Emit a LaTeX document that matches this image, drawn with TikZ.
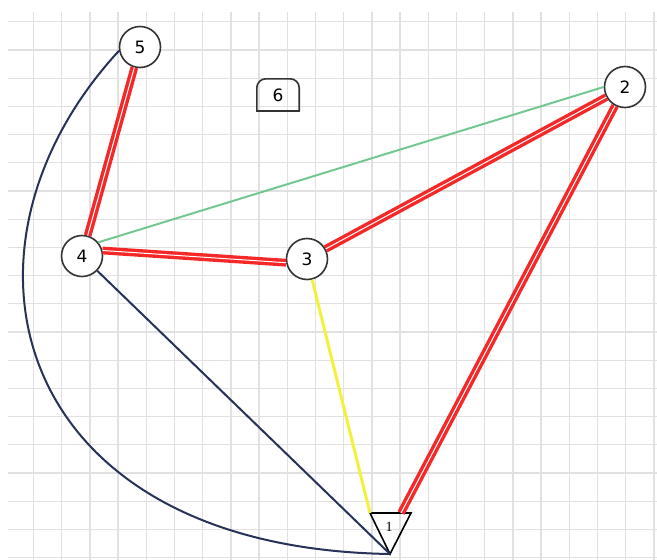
\documentclass[tikz,border=0pt]{standalone}
\usepackage{fontspec}
\usepackage{xcolor}
\newfontfamily\lblfont{DejaVu Sans}
\newfontfamily\serfont{Liberation Serif}
\definecolor{gridgray}{RGB}{225,225,225}
\definecolor{linkred}{RGB}{245,40,40}
\definecolor{linknavy}{RGB}{38,50,88}
\definecolor{linkgreen}{RGB}{115,200,145}
\definecolor{linkyellow}{RGB}{242,242,60}

\begin{document}
\begin{tikzpicture}[
    x=1pt, y=-1pt,
    vtx/.style={circle, draw=black!80, line width=1.6pt, fill=white, minimum size=41pt, inner sep=0pt, font=\lblfont\fontsize{17}{19}\selectfont},
    tagbox/.style={minimum width=42pt, minimum height=32pt, inner sep=0pt, font=\lblfont\fontsize{17}{19}\selectfont},
    gridline/.style={draw=gridgray, line width=1.3pt},
    redpipe/.style={draw=linkred, double=white, double distance=1pt, line width=3.4pt},
    navyline/.style={draw=linknavy, line width=2pt},
    greenline/.style={draw=linkgreen, line width=2pt},
    yellowline/.style={draw=linkyellow, line width=3pt}
]
\useasboundingbox (0,0) rectangle (657,560);

% grid
\begin{scope}
\clip (8,12) rectangle (657,560);
\foreach \i in {0,...,23}
    \draw[gridline] ({5.3+28.2*\i},0) -- ++(0,560);
\foreach \j in {0,...,19}
    \draw[gridline] (0,{21.8+28.2*\j}) -- ++(657,0);
\end{scope}

\node[vtx] (n5) at (140,47) {5};
\node[vtx] (n2) at (625,87) {2};
\node[vtx] (n4) at (82,256) {4};
\node[vtx] (n3) at (307,259) {3};
\node[tagbox] (n6) at (278,95) {6};
\draw[line width=1.6pt, draw=black!80, rounded corners=9pt] (n6.south west) -- (n6.north west) -- (n6.north east) -- (n6.south east);
\draw[line width=1.6pt, draw=black!80, line cap=rect] (n6.south west) -- (n6.south east);

% node 1 (triangle)
\coordinate (one-l) at (370,513);
\coordinate (one-r) at (411,513);
\coordinate (one-tip) at (390,554);
\coordinate (one-top) at (401,513);
\draw[line width=1.6pt, line join=miter] (one-l) -- (one-r) -- (one-tip) -- cycle;
\node[font=\serfont\fontsize{14}{16}\selectfont, inner sep=0pt] (n1) at (389,527) {1};

\draw[redpipe] (n5) -- (n4);
\draw[redpipe] (n4.15) -- (n3.190);
\draw[redpipe] (n3) -- (n2);
\draw[redpipe] (n2) -- (one-top);
\draw[greenline] (n4.40) -- (n2.180);
\draw[yellowline] (n3) -- (one-l);
\draw[navyline] (n4) -- (one-tip);
\draw[navyline] (n5.190) .. controls (-65,250) and (10,548) .. (one-tip);

\end{tikzpicture}
\end{document}
